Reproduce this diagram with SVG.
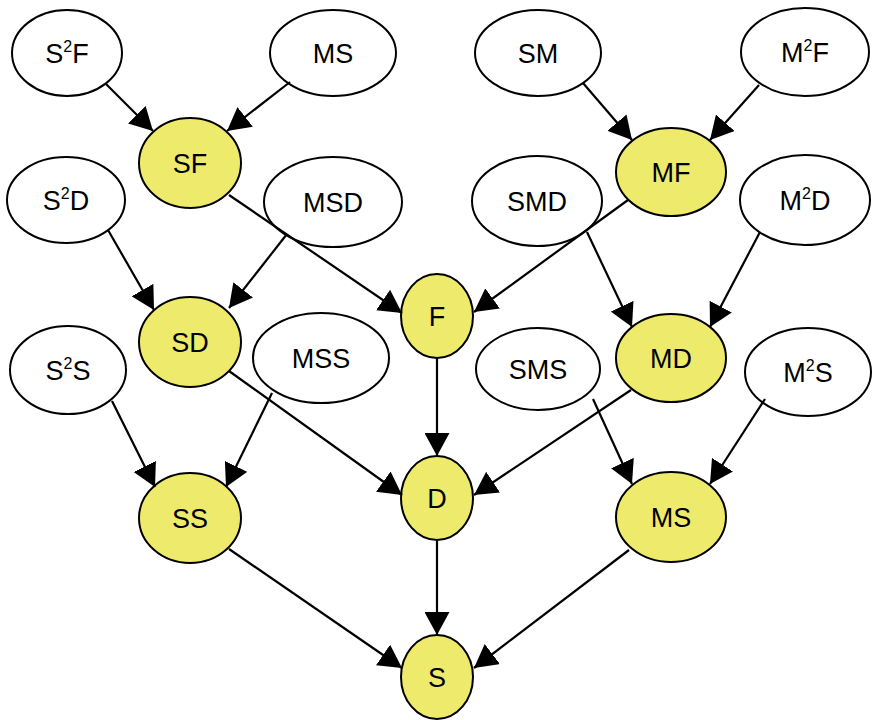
<svg xmlns="http://www.w3.org/2000/svg" width="872" height="720" viewBox="0 0 872 720">
<style>
.n ellipse{fill:#fff;stroke:#000;stroke-width:2}
.y ellipse{fill:#eeeb6c}
text{font-family:"Liberation Sans",Arial,sans-serif;font-size:27px;text-anchor:middle;fill:#000}
tspan.s{font-size:16px}
#edges line{stroke:#000;stroke-width:2.2}
</style>
<defs>
<marker id="a" markerUnits="userSpaceOnUse" viewBox="0 0 23 25" markerWidth="23" markerHeight="25" refX="23" refY="12.5" orient="auto">
<path d="M0,0 L23,12.5 L0,25 z" fill="#000"/>
</marker>
</defs>
<rect width="872" height="720" fill="#fff"/>
<g id="n_S2F" class="n"><ellipse cx="67" cy="53" rx="55" ry="43"/><text x="67" y="63">S<tspan class="s" dy="-11">2</tspan><tspan dy="11">F</tspan></text></g>
<g id="n_MS1" class="n"><ellipse cx="333" cy="53" rx="63" ry="43"/><text x="333" y="63">MS</text></g>
<g id="n_SM" class="n"><ellipse cx="538" cy="53" rx="63" ry="43"/><text x="538" y="63">SM</text></g>
<g id="n_M2F" class="n"><ellipse cx="805" cy="52" rx="64" ry="44"/><text x="805" y="62">M<tspan class="s" dy="-11">2</tspan><tspan dy="11">F</tspan></text></g>
<g id="n_SF" class="n y"><ellipse cx="190" cy="163" rx="51" ry="45"/><text x="190" y="173">SF</text></g>
<g id="n_MF" class="n y"><ellipse cx="671" cy="172" rx="55" ry="44"/><text x="671" y="182">MF</text></g>
<g id="n_S2D" class="n"><ellipse cx="66" cy="200" rx="59" ry="43"/><text x="66" y="210">S<tspan class="s" dy="-11">2</tspan><tspan dy="11">D</tspan></text></g>
<g id="n_MSD" class="n"><ellipse cx="333" cy="202" rx="69" ry="45"/><text x="333" y="212">MSD</text></g>
<g id="n_SMD" class="n"><ellipse cx="537" cy="201" rx="65" ry="45"/><text x="537" y="211">SMD</text></g>
<g id="n_M2D" class="n"><ellipse cx="805" cy="200" rx="65" ry="45"/><text x="805" y="210">M<tspan class="s" dy="-11">2</tspan><tspan dy="11">D</tspan></text></g>
<g id="n_F" class="n y"><ellipse cx="437" cy="316" rx="36" ry="42"/><text x="437" y="326">F</text></g>
<g id="n_SD" class="n y"><ellipse cx="190" cy="342" rx="51" ry="45"/><text x="190" y="352">SD</text></g>
<g id="n_MSS" class="n"><ellipse cx="321" cy="358" rx="68" ry="45"/><text x="321" y="368">MSS</text></g>
<g id="n_S2S" class="n"><ellipse cx="68" cy="370" rx="58" ry="44"/><text x="68" y="380">S<tspan class="s" dy="-11">2</tspan><tspan dy="11">S</tspan></text></g>
<g id="n_SMS" class="n"><ellipse cx="538" cy="369" rx="62" ry="41"/><text x="538" y="379">SMS</text></g>
<g id="n_MD" class="n y"><ellipse cx="671" cy="358" rx="55" ry="44"/><text x="671" y="368">MD</text></g>
<g id="n_M2S" class="n"><ellipse cx="808" cy="372" rx="63" ry="44"/><text x="808" y="382">M<tspan class="s" dy="-11">2</tspan><tspan dy="11">S</tspan></text></g>
<g id="n_D" class="n y"><ellipse cx="437" cy="498" rx="36" ry="42"/><text x="437" y="508">D</text></g>
<g id="n_SS" class="n y"><ellipse cx="190" cy="518" rx="51" ry="45"/><text x="190" y="528">SS</text></g>
<g id="n_MS2" class="n y"><ellipse cx="671" cy="517" rx="55" ry="45"/><text x="671" y="527">MS</text></g>
<g id="n_S" class="n y"><ellipse cx="437" cy="677" rx="36" ry="42"/><text x="437" y="687">S</text></g>
<g id="edges">
<line x1="106" y1="84" x2="153" y2="131" marker-end="url(#a)"/>
<line x1="290" y1="82" x2="227" y2="131" marker-end="url(#a)"/>
<line x1="583" y1="83" x2="632" y2="140" marker-end="url(#a)"/>
<line x1="759" y1="85" x2="710" y2="140" marker-end="url(#a)"/>
<line x1="229" y1="195" x2="402" y2="313" marker-end="url(#a)"/>
<line x1="287" y1="234" x2="229" y2="308" marker-end="url(#a)"/>
<line x1="108" y1="230" x2="154" y2="310" marker-end="url(#a)"/>
<line x1="628" y1="200" x2="474" y2="312" marker-end="url(#a)"/>
<line x1="587" y1="232" x2="632" y2="327" marker-end="url(#a)"/>
<line x1="760" y1="232" x2="710" y2="327" marker-end="url(#a)"/>
<line x1="437" y1="358" x2="437" y2="456" marker-end="url(#a)"/>
<line x1="112" y1="401" x2="155" y2="487" marker-end="url(#a)"/>
<line x1="272" y1="393" x2="226" y2="487" marker-end="url(#a)"/>
<line x1="229" y1="371" x2="402" y2="495" marker-end="url(#a)"/>
<line x1="631" y1="390" x2="474" y2="495" marker-end="url(#a)"/>
<line x1="593" y1="399" x2="632" y2="484" marker-end="url(#a)"/>
<line x1="765" y1="399" x2="710" y2="484" marker-end="url(#a)"/>
<line x1="437" y1="541" x2="437" y2="635" marker-end="url(#a)"/>
<line x1="229" y1="549" x2="402" y2="668" marker-end="url(#a)"/>
<line x1="629" y1="550" x2="474" y2="668" marker-end="url(#a)"/>
</g>
</svg>
